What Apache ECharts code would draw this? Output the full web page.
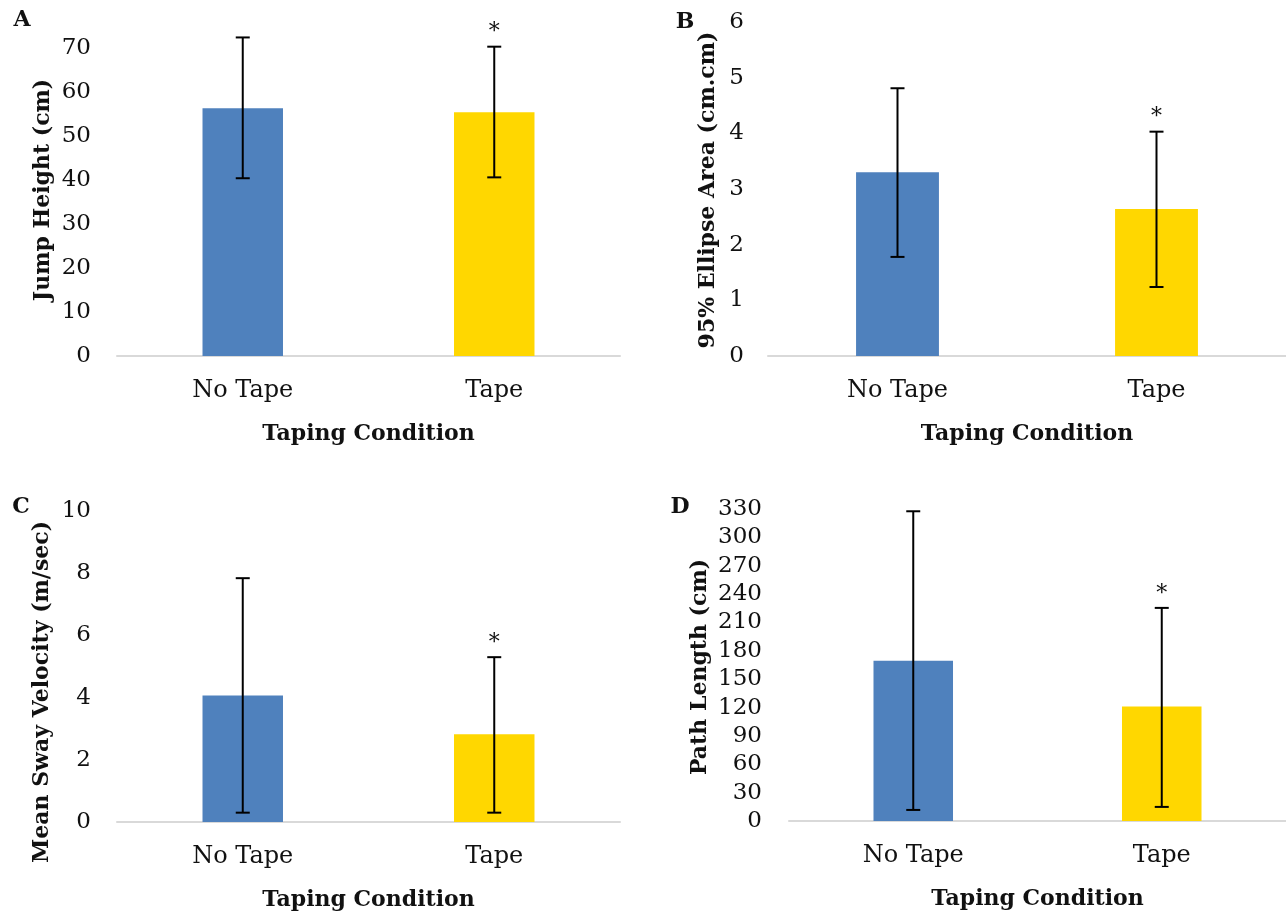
<!DOCTYPE html>
<html>
<head>
<meta charset="utf-8">
<script src="https://cdn.jsdelivr.net/npm/echarts@6/dist/echarts.min.js"></script>
<style>html,body{margin:0;padding:0;background:#fff}#c{width:1286px;height:913px}</style>
</head>
<body>
<div id="c"></div>
<script>
const categories = ['No Tape', 'Tape'];
const significant = [false, true];

const jumpMean = [56.3, 55.4];
const jumpLow  = [40.4, 40.6];
const jumpHigh = [72.4, 70.3];

const ellipseMean = [3.30, 2.64];
const ellipseLow  = [1.78, 1.24];
const ellipseHigh = [4.81, 4.03];

const swayMean = [4.07, 2.82];
const swayLow  = [0.30, 0.30];
const swayHigh = [7.84, 5.30];

const pathMean = [169.5, 121.0];
const pathLow  = [11.7, 14.9];
const pathHigh = [327.6, 225.4];

const panelLetters = ['A', 'B', 'C', 'D'];
const yTitles = ['Jump Height (cm)', '95% Ellipse Area (cm.cm)', 'Mean Sway Velocity (m/sec)', 'Path Length (cm)'];
const xTitle = 'Taping Condition';

const panels = [
  {mean: jumpMean, low: jumpLow, high: jumpHigh, min: 0, max: 70, interval: 10},
  {mean: ellipseMean, low: ellipseLow, high: ellipseHigh, min: 0, max: 6, interval: 1},
  {mean: swayMean, low: swayLow, high: swayHigh, min: 0, max: 10, interval: 2},
  {mean: pathMean, low: pathLow, high: pathHigh, min: 0, max: 330, interval: 30}
];

const FONT = 'DejaVu Serif';
const barColors = ['#4F81BD', '#FFD700'];

const grids = [
  {left: 117, right: 666, top: 48, bottom: 557},
  {left: 768, right: 0, top: 22, bottom: 557},
  {left: 117, right: 666, top: 511, bottom: 91},
  {left: 789, right: 0, top: 509, bottom: 92}
];
const yLabelMargin = [26, 24, 26, 27];
const yTitlePos = [[43, 190], [708, 190], [42, 692], [700, 667]];
const letterPos = [[22, 20], [685, 22], [21, 507], [680, 507]];

const option = {
  animation: false,
  backgroundColor: '#fff',
  grid: grids.map(g => Object.assign({containLabel: false}, g)),
  xAxis: panels.map((p, i) => ({
    type: 'category', gridIndex: i, data: categories,
    axisLine: {lineStyle: {color: '#D9D9D9', width: 2}},
    axisTick: {show: false},
    axisLabel: {fontFamily: FONT, fontSize: 24, color: '#111', margin: 23},
    name: xTitle, nameLocation: 'middle', nameGap: 67,
    nameTextStyle: {fontFamily: FONT, fontSize: 22, fontWeight: 'bold', color: '#111'}
  })),
  yAxis: panels.map((p, i) => ({
    type: 'value', gridIndex: i, min: p.min, max: p.max, interval: p.interval,
    axisLine: {show: false}, axisTick: {show: false}, splitLine: {show: false},
    axisLabel: {fontFamily: FONT, fontSize: 23, color: '#111', margin: yLabelMargin[i]}
  })),
  graphic: [
    ...yTitles.map((t, i) => ({
      type: 'text', x: yTitlePos[i][0], y: yTitlePos[i][1], rotation: Math.PI / 2,
      style: {text: t, fontFamily: FONT, fontSize: 22, fontWeight: 'bold', fill: '#111',
        textAlign: 'center', textVerticalAlign: 'middle'}
    })),
    ...panelLetters.map((t, i) => ({
      type: 'text', x: letterPos[i][0], y: letterPos[i][1],
      style: {text: t, fontFamily: FONT, fontSize: 22, fontWeight: 'bold', fill: '#111',
        textAlign: 'center', textVerticalAlign: 'middle'}
    }))
  ],
  series: []
};

panels.forEach((p, i) => {
  option.series.push({
    type: 'bar', xAxisIndex: i, yAxisIndex: i, barWidth: '32%',
    data: p.mean.map((v, k) => ({value: v, itemStyle: {color: barColors[k]}}))
  });
  option.series.push({
    type: 'custom', xAxisIndex: i, yAxisIndex: i, z: 10,
    data: categories.map((c, k) => [k, p.low[k], p.high[k], significant[k] ? 1 : 0]),
    renderItem: function (params, api) {
      const lo = api.coord([api.value(0), api.value(1)]);
      const hi = api.coord([api.value(0), api.value(2)]);
      const w = 7;
      const st = {stroke: '#000', lineWidth: 2};
      const children = [
        {type: 'line', shape: {x1: lo[0], y1: lo[1], x2: hi[0], y2: hi[1]}, style: st},
        {type: 'line', shape: {x1: hi[0] - w, y1: hi[1], x2: hi[0] + w, y2: hi[1]}, style: st},
        {type: 'line', shape: {x1: lo[0] - w, y1: lo[1], x2: lo[0] + w, y2: lo[1]}, style: st}
      ];
      if (api.value(3)) {
        children.push({type: 'text', x: hi[0], y: hi[1] - 14,
          style: {text: '*', fontFamily: FONT, fontSize: 22, fill: '#111', textAlign: 'center', textVerticalAlign: 'middle'}});
      }
      return {type: 'group', children: children};
    }
  });
});

const chart = echarts.init(document.getElementById('c'), null, {renderer: 'canvas'});
chart.setOption(option);
</script>
</body>
</html>
